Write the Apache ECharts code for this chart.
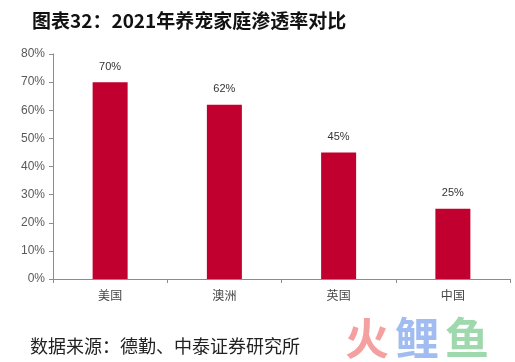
<!DOCTYPE html>
<html><head><meta charset="utf-8">
<script src="https://cdn.jsdelivr.net/npm/echarts@6/dist/echarts.min.js"></script>
<style>html,body{margin:0;padding:0;background:#fff}#c{width:515px;height:362px}</style>
</head><body><div id="c"></div>
<script>
var categories = ['美国', '澳洲', '英国', '中国'];
var values = [70, 62, 45, 25];
var yTicks = [0, 10, 20, 30, 40, 50, 60, 70, 80];

var chart = echarts.init(document.getElementById('c'), null, {renderer: 'canvas'});
chart.setOption({
  animation: false,
  backgroundColor: '#fff',
  title: {
    text: '图表32：2021年养宠家庭渗透率对比',
    left: 27, top: 6,
    textStyle: {fontFamily: 'Noto Sans CJK SC', fontWeight: 'bold', fontSize: 19, color: '#111'}
  },
  grid: {left: 53, right: 5, top: 54, bottom: 83, containLabel: false},
  xAxis: {
    type: 'category',
    data: categories,
    axisLine: {lineStyle: {color: '#8c8c8c', width: 1}},
    axisTick: {show: true, length: 4, lineStyle: {color: '#8c8c8c'}},
    axisLabel: {fontFamily: 'Noto Sans CJK SC', fontSize: 12, color: '#444', margin: 10}
  },
  yAxis: {
    type: 'value',
    min: yTicks[0], max: yTicks[yTicks.length - 1], interval: 10,
    splitLine: {show: false},
    axisLine: {show: true, lineStyle: {color: '#8c8c8c', width: 1}},
    axisTick: {show: true, length: 4, lineStyle: {color: '#8c8c8c'}},
    axisLabel: {fontFamily: 'Arial, Liberation Sans', fontSize: 12, color: '#595959', margin: 8,
      formatter: function (v) { return v + '%'; }}
  },
  series: [{
    type: 'bar',
    data: values,
    barWidth: 35,
    itemStyle: {color: '#c2002f'},
    label: {show: true, position: 'top', distance: 10, fontFamily: 'Arial, Liberation Sans', fontSize: 11, color: '#333',
      formatter: function (p) { return p.value + '%'; }}
  }],
  graphic: [
    {type: 'text', left: 30, top: 337, style: {text: '数据来源：德勤、中泰证券研究所', fontFamily: 'Noto Sans CJK SC', fontSize: 18, fill: '#222'}},
    {type: 'text', left: 345, top: 316, style: {text: '火', fontFamily: 'Noto Sans CJK SC', fontWeight: 'bold', fontSize: 44, fill: 'rgba(240,120,120,0.7)'}},
    {type: 'text', left: 395, top: 316, style: {text: '鲤', fontFamily: 'Noto Sans CJK SC', fontWeight: 'bold', fontSize: 44, fill: 'rgba(120,160,235,0.7)'}},
    {type: 'text', left: 445, top: 316, style: {text: '鱼', fontFamily: 'Noto Sans CJK SC', fontWeight: 'bold', fontSize: 44, fill: 'rgba(120,200,140,0.7)'}}
  ]
});
</script></body></html>
